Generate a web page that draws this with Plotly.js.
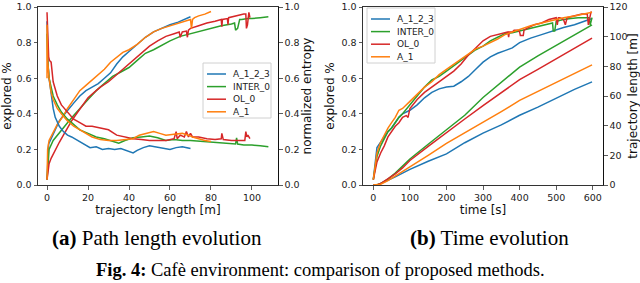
<!DOCTYPE html>
<html>
<head>
<meta charset="utf-8">
<script src="https://cdn.plot.ly/plotly-3.0.1.min.js"></script>
<style>
html,body{margin:0;padding:0;background:#fff;}
#chart{width:640px;height:283px;}
</style>
</head>
<body>
<div id="chart"></div>
<script>
// ---------- DATA ----------
const methods = ["A_1_2_3", "INTER_0", "OL_0", "A_1"];
const colors = ["#1f77b4", "#2ca02c", "#d62728", "#ff7f0e"];

// (a) explored % vs trajectory length [m]
const lenExpA123 = [0, 0.3, 0.8, 2, 4, 6, 8, 10, 13, 16, 19, 22, 25, 28, 31, 34, 37, 40, 44, 48, 52, 56, 60, 64, 68, 70];
const expLenA123 = [0.03, 0.15, 0.23, 0.26, 0.31, 0.36, 0.39, 0.42, 0.46, 0.5, 0.53, 0.55, 0.57, 0.6, 0.63, 0.68, 0.72, 0.75, 0.79, 0.83, 0.86, 0.88, 0.9, 0.915, 0.935, 0.945];

const lenExpInter = [0, 0.3, 1, 3, 5, 8, 10, 13, 16, 20, 24, 28, 32, 36, 40, 44, 48, 52, 56, 60, 65, 70, 75, 80, 85, 90, 91.5, 92, 93, 94, 95, 98, 100, 104, 108];
const expLenInter = [0.03, 0.1, 0.2, 0.25, 0.28, 0.32, 0.35, 0.39, 0.43, 0.48, 0.53, 0.57, 0.61, 0.635, 0.66, 0.7, 0.74, 0.76, 0.785, 0.81, 0.835, 0.85, 0.865, 0.88, 0.895, 0.905, 0.91, 0.87, 0.88, 0.93, 0.93, 0.935, 0.935, 0.94, 0.945];

const lenExpOL = [0, 0.5, 1, 2, 4, 6, 8, 10, 12, 15, 18, 20, 23, 26, 30, 34, 38, 42, 46, 50, 54, 58, 62, 64.5, 65, 66, 68, 68.5, 69, 70, 74, 78, 82, 85, 85.3, 85.6, 88, 88.3, 88.6, 92, 96, 97, 97.3, 97.8, 98.5, 99];
const expLenOL = [0.03, 0.1, 0.12, 0.15, 0.2, 0.24, 0.28, 0.32, 0.36, 0.41, 0.46, 0.49, 0.52, 0.55, 0.58, 0.62, 0.66, 0.7, 0.74, 0.78, 0.81, 0.835, 0.85, 0.86, 0.83, 0.86, 0.865, 0.83, 0.87, 0.88, 0.895, 0.91, 0.92, 0.93, 0.89, 0.93, 0.935, 0.9, 0.94, 0.95, 0.96, 0.96, 0.88, 0.9, 0.97, 0.94];

const lenExpA1 = [0, 0.3, 1, 3, 5, 8, 10, 13, 16, 19, 22, 25, 28, 31, 34, 37, 40, 44, 48, 52, 56, 60, 64, 68, 70, 70.5, 71, 72, 74, 77, 80];
const expLenA1 = [0.03, 0.2, 0.25, 0.3, 0.34, 0.39, 0.43, 0.48, 0.53, 0.56, 0.59, 0.62, 0.65, 0.69, 0.72, 0.745, 0.76, 0.79, 0.83, 0.86, 0.88, 0.895, 0.91, 0.925, 0.93, 0.88, 0.93, 0.94, 0.95, 0.96, 0.975];

// (a) normalized entropy vs trajectory length [m]
const lenEntA123 = [0, 0.2, 0.5, 1, 2, 3, 4, 6, 8, 10, 12, 15, 18, 19, 21, 24, 27, 30, 33, 36, 40, 42, 44, 47, 50, 53, 56, 60, 63, 66, 70];
const entA123 = [0.92, 0.8, 0.68, 0.6, 0.5, 0.43, 0.38, 0.33, 0.3, 0.28, 0.27, 0.25, 0.23, 0.22, 0.21, 0.215, 0.2, 0.205, 0.2, 0.205, 0.19, 0.18, 0.195, 0.21, 0.22, 0.215, 0.21, 0.2, 0.21, 0.215, 0.205];

const lenEntInter = [0, 0.3, 1, 2, 3, 5, 7, 10, 13, 16, 20, 24, 28, 32, 35, 38, 42, 46, 50, 54, 58, 62, 66, 70, 75, 80, 85, 90, 92, 92.5, 93, 96, 100, 104, 108];
const entInter = [0.85, 0.7, 0.6, 0.55, 0.5, 0.45, 0.41, 0.37, 0.34, 0.31, 0.29, 0.27, 0.26, 0.245, 0.235, 0.25, 0.265, 0.27, 0.275, 0.265, 0.25, 0.255, 0.25, 0.25, 0.245, 0.24, 0.235, 0.23, 0.23, 0.265, 0.23, 0.225, 0.225, 0.22, 0.215];

const lenEntOL = [0, 0.3, 0.8, 1.2, 2, 3, 5, 7, 10, 13, 16, 19, 22, 26, 30, 34, 38, 42, 46, 50, 54, 58, 62, 63, 63.5, 65, 67, 68, 69, 70, 71, 74, 78, 82, 85, 85.3, 86, 90, 94, 96.5, 97, 97.5, 98, 99];
const entOL = [0.97, 0.85, 0.72, 0.7, 0.69, 0.58, 0.5, 0.45, 0.41, 0.37, 0.35, 0.33, 0.33, 0.32, 0.31, 0.28, 0.27, 0.26, 0.255, 0.25, 0.25, 0.25, 0.26, 0.3, 0.26, 0.28, 0.27, 0.3, 0.27, 0.29, 0.27, 0.27, 0.26, 0.255, 0.26, 0.29, 0.255, 0.25, 0.25, 0.25, 0.3, 0.27, 0.28, 0.26];

const lenEntA1 = [0, 0, 0.3, 1, 2, 3, 5, 7, 10, 13, 16, 19, 22, 26, 30, 34, 38, 42, 45, 48, 52, 55, 58, 62, 66, 69, 71, 74, 77, 80];
const entA1 = [0.6, 0.9, 0.7, 0.6, 0.52, 0.48, 0.43, 0.4, 0.36, 0.33, 0.31, 0.29, 0.27, 0.255, 0.25, 0.25, 0.255, 0.26, 0.28, 0.29, 0.3, 0.29, 0.28, 0.285, 0.29, 0.28, 0.27, 0.26, 0.25, 0.245];

// (b) explored % vs time [s]
const tExpA123 = [0, 5, 10, 20, 30, 40, 50, 60, 70, 80, 90, 100, 120, 140, 160, 180, 200, 220, 240, 260, 280, 300, 320, 340, 360, 380, 400, 430, 460, 490, 520, 550, 580, 598];
const expTA123 = [0.03, 0.12, 0.21, 0.24, 0.27, 0.3, 0.32, 0.35, 0.38, 0.4, 0.41, 0.42, 0.45, 0.49, 0.52, 0.54, 0.55, 0.555, 0.58, 0.61, 0.65, 0.69, 0.72, 0.74, 0.755, 0.77, 0.8, 0.825, 0.845, 0.865, 0.885, 0.9, 0.92, 0.935];

const tExpInter = [0, 5, 10, 20, 30, 40, 50, 60, 70, 80, 100, 120, 140, 160, 180, 200, 220, 240, 260, 280, 300, 320, 340, 360, 380, 400, 430, 460, 490, 492, 496, 500, 520, 540, 560, 580, 590, 593, 596, 598];
const expTInter = [0.03, 0.1, 0.16, 0.22, 0.26, 0.3, 0.32, 0.35, 0.38, 0.4, 0.45, 0.5, 0.55, 0.59, 0.61, 0.64, 0.67, 0.7, 0.73, 0.76, 0.78, 0.81, 0.83, 0.85, 0.855, 0.865, 0.88, 0.895, 0.91, 0.865, 0.865, 0.92, 0.93, 0.935, 0.94, 0.94, 0.94, 0.9, 0.94, 0.94];

const tExpOL = [0, 5, 10, 20, 30, 40, 50, 60, 70, 80, 90, 95, 100, 120, 140, 160, 180, 200, 220, 240, 260, 280, 300, 320, 340, 360, 368, 370, 372, 380, 385, 388, 395, 400, 402, 410, 412, 420, 440, 460, 480, 500, 503, 506, 510, 520, 525, 530, 550, 570, 585, 588, 591, 595, 598];
const expTOL = [0.03, 0.08, 0.13, 0.18, 0.22, 0.27, 0.3, 0.33, 0.35, 0.38, 0.39, 0.38, 0.43, 0.48, 0.52, 0.55, 0.58, 0.61, 0.64, 0.68, 0.73, 0.77, 0.81, 0.835, 0.845, 0.855, 0.86, 0.83, 0.86, 0.86, 0.87, 0.87, 0.87, 0.86, 0.84, 0.84, 0.87, 0.88, 0.9, 0.91, 0.93, 0.94, 0.9, 0.94, 0.94, 0.93, 0.9, 0.94, 0.95, 0.96, 0.96, 0.9, 0.93, 0.97, 0.97];

const tExpA1 = [0, 5, 10, 20, 30, 40, 50, 60, 70, 80, 100, 120, 140, 160, 180, 200, 220, 240, 260, 280, 300, 320, 340, 360, 380, 400, 430, 460, 490, 520, 550, 580, 598];
const expTA1 = [0.03, 0.12, 0.18, 0.24, 0.28, 0.32, 0.35, 0.38, 0.42, 0.43, 0.47, 0.51, 0.55, 0.58, 0.62, 0.65, 0.68, 0.71, 0.74, 0.765, 0.78, 0.8, 0.82, 0.845, 0.86, 0.875, 0.895, 0.91, 0.925, 0.94, 0.95, 0.96, 0.97];

// (b) trajectory length [m] vs time [s]
const tLen = [0, 10, 20, 40, 60, 80, 100, 150, 200, 250, 300, 350, 400, 450, 500, 550, 598];
const lenTA123 = [0, 0, 1, 3, 5.5, 8, 10.5, 16, 21, 28.5, 35, 40.5, 47, 52.5, 58.5, 64.5, 69.5];
const lenTInter = [0, 0, 1, 4, 8, 12.5, 17.5, 27.5, 37.5, 47, 59, 69.5, 79.5, 87, 94, 101, 108];
const lenTOL = [0, 0, 1, 4, 7.5, 11.5, 16.5, 26, 35.5, 44.5, 53.5, 62.5, 71, 78, 85, 92, 99];
const lenTA1 = [0, 0, 0.5, 3, 6, 9, 12.5, 20, 28, 35, 42, 49.5, 57, 63, 69.5, 75, 81];

const xTicksA = [0, 20, 40, 60, 80, 100];
const xTicksB = [0, 100, 200, 300, 400, 500, 600];
const yTicks01 = [0, 0.2, 0.4, 0.6, 0.8, 1.0];
const yTicksLen = [0, 20, 40, 60, 80, 100, 120];

// ---------- TRACES ----------
const LW = 1.5;
function tr(x, y, i, xa, ya) {
  return {x: x, y: y, type: "scatter", mode: "lines", name: methods[i],
    line: {color: colors[i], width: LW}, xaxis: xa, yaxis: ya,
    showlegend: false, hoverinfo: "skip"};
}
const expLenX = [lenExpA123, lenExpInter, lenExpOL, lenExpA1];
const expLenY = [expLenA123, expLenInter, expLenOL, expLenA1];
const entLenX = [lenEntA123, lenEntInter, lenEntOL, lenEntA1];
const entLenY = [entA123, entInter, entOL, entA1];
const expTX = [tExpA123, tExpInter, tExpOL, tExpA1];
const expTY = [expTA123, expTInter, expTOL, expTA1];
const lenTY = [lenTA123, lenTInter, lenTOL, lenTA1];

const data = [];
for (let i = 0; i < 4; i++) data.push(tr(expLenX[i], expLenY[i], i, "x", "y"));
for (let i = 0; i < 4; i++) data.push(tr(entLenX[i], entLenY[i], i, "x", "y2"));
for (let i = 0; i < 4; i++) data.push(tr(expTX[i], expTY[i], i, "x2", "y3"));
for (let i = 0; i < 4; i++) data.push(tr(tLen, lenTY[i], i, "x2", "y4"));

// ---------- LAYOUT ----------
const W = 640, H = 283;
const tickFont = {family: "DejaVu Sans", size: 9.5, color: "#222"};
const titleFont = {family: "DejaVu Sans", size: 12, color: "#111"};
const frameCol = "#333";
function ax(extra) {
  return Object.assign({
    showgrid: false, zeroline: false, showline: true, linecolor: frameCol, linewidth: 1,
    ticks: "outside", ticklen: 3.5, tickwidth: 0.8, tickcolor: frameCol,
    tickfont: tickFont, automargin: false, fixedrange: true
  }, extra);
}
const domA = [38 / W, 278 / W], domB = [363 / W, 603 / W];
const domY = [(H - 185) / H, (H - 7) / H];

// compact matplotlib-style legends (box + line samples + labels), in pixel -> paper coords
const shapes = [], annotations = [];
function px(x) { return x / W; }
function py(y) { return (H - y) / H; }
function addLegend(left, top) {
  const w = 68, h = 55;
  shapes.push({type: "rect", xref: "paper", yref: "paper",
    x0: px(left), x1: px(left + w), y0: py(top), y1: py(top + h),
    line: {color: "#d0d0d0", width: 1}, fillcolor: "rgba(255,255,255,0.85)", layer: "above"});
  for (let i = 0; i < methods.length; i++) {
    const yy = top + 11 + i * 12.6;
    shapes.push({type: "line", xref: "paper", yref: "paper",
      x0: px(left + 4), x1: px(left + 23), y0: py(yy), y1: py(yy),
      line: {color: colors[i], width: 1.5}, layer: "above"});
    annotations.push({text: methods[i], xref: "paper", yref: "paper",
      x: px(left + 28), y: py(yy), xanchor: "left", yanchor: "middle", showarrow: false,
      font: {family: "DejaVu Sans", size: 9, color: "#222"}});
  }
}
addLegend(203, 63);
addLegend(367, 8);

annotations.push(
  {text: "<b>(a)</b> Path length evolution", xref: "paper", yref: "paper",
   x: 157 / W, y: (H - 238) / H, xanchor: "center", yanchor: "middle", showarrow: false,
   font: {family: "Liberation Serif", size: 21, color: "#000"}},
  {text: "<b>(b)</b> Time evolution", xref: "paper", yref: "paper",
   x: 489 / W, y: (H - 238) / H, xanchor: "center", yanchor: "middle", showarrow: false,
   font: {family: "Liberation Serif", size: 21, color: "#000"}},
  {text: "<b>Fig. 4:</b> Cafè environment: comparison of proposed methods.", xref: "paper", yref: "paper",
   x: 320 / W, y: (H - 270) / H, xanchor: "center", yanchor: "middle", showarrow: false,
   font: {family: "Liberation Serif", size: 18.5, color: "#000"}}
);

const layout = {
  width: W, height: H,
  margin: {l: 0, r: 0, t: 0, b: 0},
  paper_bgcolor: "#fff", plot_bgcolor: "#fff",
  showlegend: false,
  xaxis: ax({domain: domA, anchor: "y", range: [-4.4, 112.7], tickvals: xTicksA, mirror: true,
    title: {text: "trajectory length [m]", font: titleFont, standoff: 3}}),
  yaxis: ax({domain: domY, anchor: "x", range: [0, 1], tickvals: yTicks01, tickformat: ".1f",
    title: {text: "explored %", font: titleFont, standoff: 4}}),
  yaxis2: ax({overlaying: "y", side: "right", anchor: "x", range: [0, 1], tickvals: yTicks01, tickformat: ".1f",
    linecolor: "#111", title: {text: "normalized entropy", font: titleFont, standoff: 4}}),
  xaxis2: ax({domain: domB, anchor: "y3", range: [-28.2, 628], tickvals: xTicksB, mirror: true,
    title: {text: "time [s]", font: titleFont, standoff: 3}}),
  yaxis3: ax({domain: domY, anchor: "x2", range: [0, 1], tickvals: yTicks01, tickformat: ".1f",
    title: {text: "explored %", font: titleFont, standoff: 4}}),
  yaxis4: ax({overlaying: "y3", side: "right", anchor: "x2", range: [0, 120], tickvals: yTicksLen,
    linecolor: "#111", title: {text: "trajectory length [m]", font: titleFont, standoff: 4}}),
  shapes: shapes,
  annotations: annotations
};

Plotly.newPlot("chart", data, layout, {displayModeBar: false, staticPlot: true});
</script>
</body>
</html>
